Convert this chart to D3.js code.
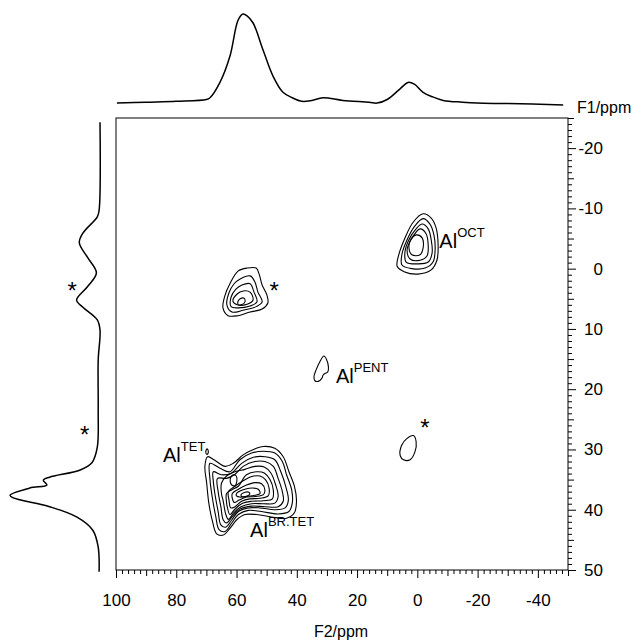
<!DOCTYPE html>
<html><head><meta charset="utf-8">
<script src="https://cdn.jsdelivr.net/npm/d3@7"></script>
<style>body{margin:0;background:#fff}svg{display:block;font-family:Arial,"Liberation Sans",sans-serif}</style>
</head><body><svg id="c" width="643" height="640"></svg>
<script>
// ---- axes ----
const F2_DOMAIN = [100, -50];
const F1_DOMAIN = [-25, 50];
const F2_TICK_LABELS = [100, 80, 60, 40, 20, 0, -20, -40];
const F1_TICK_LABELS = [-20, -10, 0, 10, 20, 30, 40, 50];

// ---- F2 (top) projection: [ppm, intensity] ----
const topProjection = [
  [99.7,1],[90,2],[80,3],[70,5],[68.8,7],[65.5,24],[62.2,53],[59.5,93],[57.9,100],[56.5,98],
  [54.5,90],[51.2,60],[47.9,31],[44.6,13],[41.5,7],[38.3,3],[35,4],[31.3,7],[24.7,4],[16,2],
  [13.4,1],[10,5],[6,16],[3.1,24],[1,22],[-1.9,13],[-5,8],[-8.6,4],[-15,2],[-19.8,1],[-30,0.5],[-48.4,-1]
];
// ---- F1 (left) projection: [ppm, intensity] ----
const leftProjection = [
  [-24.3,0],[-9.7,1],[-8.6,3],[-5.9,19],[-4.3,23],[-1.9,14],[0.7,4],[3.0,14],[5.2,26],[6.4,19],
  [8.5,3],[10.2,0],[15.2,2],[23.5,2],[29.6,3],[32.2,9],[33.4,22],[34.6,56],[35.1,63],[35.9,59],
  [36.4,78],[37.6,100],[38.0,97],[39.5,56],[41.2,26],[43.4,8],[46.2,2],[50.3,1]
];

// ---- contour lines: [F2 ppm, F1 ppm] ----
const contoursTET = [
  [[69.6,31.2],[67.2,31.8],[63.8,32.8],[61.1,32.3],[57.8,30.9],[54.4,30.0],[51.1,29.5],[47.3,29.8],[44.5,31.2],[42.6,33.7],[40.8,36.1],[40.1,38.6],[40.8,40.5],[43.4,41.4],[48.4,41.2],[53.3,40.8],[57.2,40.8],[60.0,41.7],[62.2,43.1],[64.4,44.2],[66.6,44.0],[68.0,41.9],[69.2,38.9],[69.9,35.6],[70.5,32.8]],
  [[68.8,32.3],[65.5,33.1],[62.2,33.7],[58.9,31.7],[55.0,30.6],[51.1,30.3],[47.3,30.6],[44.8,32.0],[43.4,34.2],[41.7,36.7],[41.5,38.9],[42.6,40.3],[46.2,40.7],[51.7,40.3],[56.1,40.1],[59.4,40.8],[61.6,42.2],[63.8,43.6],[65.8,43.3],[66.9,41.1],[68.0,38.1],[68.8,35.0]],
  [[67.7,33.7],[65.0,34.2],[61.6,33.9],[58.3,32.3],[54.4,31.3],[50.6,31.2],[47.3,31.7],[45.3,33.7],[43.7,36.1],[42.8,38.4],[43.9,39.7],[47.3,40.0],[52.2,39.7],[56.1,39.7],[59.4,40.3],[61.6,41.7],[63.6,42.9],[65.2,42.5],[66.1,40.3],[67.2,37.3],[67.7,35.3]],
  [[66.3,34.8],[63.3,34.8],[60.7,34.2],[57.8,32.8],[53.9,32.0],[50.6,32.0],[47.8,32.8],[46.2,34.8],[44.8,37.0],[44.5,38.6],[46.2,39.5],[50.6,39.5],[55.0,39.4],[58.9,39.9],[61.4,41.1],[63.3,42.2],[64.4,41.7],[65.2,39.5],[66.1,37.0]],
  [[65.0,35.6],[63.3,34.4],[60.5,33.7],[57.2,33.3],[53.9,32.8],[50.8,32.9],[48.6,33.9],[47.0,35.9],[46.2,37.8],[47.3,38.9],[51.1,39.0],[55.0,39.0],[58.5,39.5],[61.1,40.6],[62.7,41.6],[63.6,40.7],[64.4,38.6],[65.0,37.3]],
  [[63.3,37.3],[61.6,36.7],[59.4,36.1],[56.7,34.2],[53.3,33.7],[50.8,33.9],[48.9,35.0],[47.8,36.7],[48.1,38.2],[51.1,38.5],[55.0,38.6],[58.3,39.0],[60.7,40.0],[62.2,40.8],[63.0,39.7],[63.4,38.4]],
  [[62.7,37.0],[60.5,36.1],[57.8,35.2],[55.0,34.5],[52.2,34.4],[50.4,35.0],[49.2,36.4],[49.5,37.7],[52.2,38.1],[55.6,38.2],[58.3,38.6],[60.5,39.5],[61.9,39.7],[62.5,38.4]],
  [[61.4,37.3],[59.4,36.6],[56.7,35.9],[53.9,35.5],[51.7,35.7],[50.6,36.7],[51.1,37.5],[53.9,37.8],[56.7,37.9],[59.2,38.4],[60.7,38.8],[61.4,38.1]],
  [[60.0,37.3],[57.8,36.7],[55.0,36.4],[52.8,36.6],[52.2,37.3],[53.9,37.6],[56.7,37.8],[58.9,37.9],[60.0,37.7]],
  [[58.5,37.5],[57.2,37.1],[55.9,37.1],[55.6,37.4],[57.0,37.8],[58.3,37.8]],
  [[61.9,34.6],[61.1,34.2],[60.1,34.4],[59.9,35.3],[60.5,36.0],[61.6,35.9],[62.1,35.3]],
  [[69.8,29.9],[69.4,30.2],[69.5,30.7],[69.9,30.8],[70.2,30.4]]
];
const contoursOCT = [
  [[-1.9,-9.1],[-4.6,-8.4],[-6.2,-6.8],[-6.9,-3.9],[-6.5,-1.4],[-4.6,0.2],[-0.2,0.9],[4.4,0.5],[6.7,-0.4],[6.1,-2.4],[4.1,-5.1],[1.4,-7.7]],
  [[-1.9,-8.3],[-4.2,-7.4],[-5.5,-5.6],[-5.9,-3.1],[-5.2,-1.1],[-2.6,-0.1],[1.8,0.0],[5.1,-0.6],[5.1,-2.4],[3.4,-4.8],[0.8,-7.1]],
  [[-1.6,-7.4],[-3.6,-6.6],[-4.6,-4.8],[-4.9,-2.6],[-3.6,-1.1],[-0.2,-0.8],[3.7,-1.1],[4.1,-2.8],[2.8,-4.8],[0.4,-6.6]],
  [[-0.9,-6.6],[-2.9,-5.8],[-3.6,-3.9],[-3.2,-2.1],[-0.9,-1.4],[2.4,-1.6],[3.4,-3.1],[2.1,-4.8]],
  [[0.4,-5.6],[-1.6,-5.1],[-1.9,-3.4],[-0.9,-2.3],[1.8,-2.3],[2.8,-3.6],[2.1,-4.9]]
];
const contoursSideband = [
  [[59.5,0.4],[56.5,-0.1],[53.5,-0.1],[52.5,0.9],[51.5,2.7],[49.9,4.4],[49.6,5.7],[51.5,6.7],[55.5,7.2],[59.5,7.8],[62.8,7.8],[64.5,6.5],[63.8,4.4],[62.2,2.5]],
  [[58.8,1.7],[55.5,1.2],[53.9,2.2],[52.9,3.9],[51.5,5.5],[53.5,6.3],[57.8,6.9],[61.5,7.2],[63.2,6.0],[62.5,4.0],[60.8,2.5]],
  [[58.2,2.7],[55.5,2.5],[54.2,3.9],[53.2,5.5],[55.5,6.2],[59.5,6.5],[61.8,6.3],[61.8,4.7],[60.2,3.4]],
  [[57.8,3.7],[55.5,3.9],[54.5,5.2],[56.5,5.9],[59.8,6.0],[61.2,5.4],[59.8,4.2]],
  [[58.8,5.0],[57.5,4.9],[57.2,5.5],[58.5,6.0],[59.5,5.9],[59.5,5.4]]
];
const contoursPENT = [
  [[31.0,14.5],[30.1,15.1],[29.5,16.3],[29.7,17.1],[31.2,17.6],[31.7,18.2],[32.9,18.7],[34.0,18.6],[34.3,17.9],[33.6,16.8],[32.3,15.4]]
];
const contoursSideband2 = [
  [[1.3,27.7],[0.4,28.7],[0.8,30.4],[2.4,31.7],[4.6,31.7],[5.7,31.0],[5.2,29.3],[3.5,28.2]]
];

// ---- peak labels: [F2, F1, main, superscript] ----
const peakLabels = [
  [84.4, 32.1, "Al", "TET"],
  [-7.3, -3.5, "Al", "OCT"],
  [27.0, 19.0, "Al", "PENT"],
  [55.5, 44.5, "Al", "BR.TET"]
];
// spinning sidebands "*" in 2D: [F2, F1]
const sidebandStars = [[47.5, 5.0], [-2.5, 27.8]];
// "*" on left projection: [F1, intensity]
const projStars = [[5.0, 31], [29.0, 17]];

// ---- drawing ----
const svg = d3.select("#c");
const x = d3.scaleLinear().domain(F2_DOMAIN).range([116, 568]);
const y = d3.scaleLinear().domain(F1_DOMAIN).range([118, 570]);
const topI = d3.scaleLinear().domain([0, 100]).range([104, 14]);
const leftI = d3.scaleLinear().domain([0, 100]).range([100, 10]);

svg.append("rect").attr("x", 116).attr("y", 118).attr("width", 452).attr("height", 452)
  .attr("fill", "none").attr("stroke", "#000").attr("stroke-width", 1);

// bottom axis
const bx = svg.append("g").attr("transform", "translate(0,570)")
  .call(d3.axisBottom(x).tickValues(d3.range(-50, 101, 2)).tickSize(4)
    .tickFormat(d => F2_TICK_LABELS.includes(d) ? d : ""));
bx.select(".domain").remove();
bx.selectAll(".tick line").attr("y2", d => d % 20 === 0 ? 8 : d % 10 === 0 ? 6 : 4);
bx.selectAll(".tick text").attr("y", 24).attr("font-size", 17).attr("font-family", "Arial, Liberation Sans, sans-serif");

// right axis
const ry = svg.append("g").attr("transform", "translate(568,0)")
  .call(d3.axisRight(y).tickValues(d3.range(-25, 51, 1)).tickSize(4)
    .tickFormat(d => F1_TICK_LABELS.includes(d) ? d : ""));
ry.select(".domain").remove();
ry.selectAll(".tick line").attr("x2", d => d % 10 === 0 ? 8 : d % 5 === 0 ? 6 : 4);
ry.selectAll(".tick text").attr("x", 35).attr("text-anchor", "end").attr("font-size", 17)
  .attr("font-family", "Arial, Liberation Sans, sans-serif");

svg.append("text").attr("x", 341).attr("y", 637).attr("text-anchor", "middle")
  .attr("font-size", 16).text("F2/ppm");
svg.append("text").attr("x", 577).attr("y", 113).attr("font-size", 16).text("F1/ppm");

// projections
svg.append("path").datum(topProjection)
  .attr("d", d3.line().x(d => x(d[0])).y(d => topI(d[1])).curve(d3.curveCatmullRom))
  .attr("fill", "none").attr("stroke", "#000").attr("stroke-width", 1.5);
svg.append("path").datum(leftProjection)
  .attr("d", d3.line().x(d => leftI(d[1])).y(d => y(d[0])).curve(d3.curveCatmullRom))
  .attr("fill", "none").attr("stroke", "#000").attr("stroke-width", 1.5);

// contours
const cl = d3.line().x(d => x(d[0])).y(d => y(d[1])).curve(d3.curveCatmullRomClosed.alpha(0.5));
[contoursTET, contoursOCT, contoursSideband, contoursPENT, contoursSideband2].forEach(group => {
  svg.append("g").selectAll("path").data(group).join("path")
    .attr("d", cl).attr("fill", "none").attr("stroke", "#000").attr("stroke-width", 1.1);
});

// labels
peakLabels.forEach(([f2, f1, main, sup]) => {
  const t = svg.append("text").attr("x", x(f2)).attr("y", y(f1)).attr("font-size", 20);
  t.append("tspan").text(main);
  t.append("tspan").attr("font-size", 13).attr("dy", -11).text(sup);
});
svg.selectAll(".sstar").data(sidebandStars).join("text").attr("class", "sstar")
  .attr("x", d => x(d[0])).attr("y", d => y(d[1])).attr("font-size", 24)
  .attr("text-anchor", "middle").text("*");
svg.selectAll(".pstar").data(projStars).join("text").attr("class", "pstar")
  .attr("x", d => leftI(d[1])).attr("y", d => y(d[0])).attr("font-size", 24)
  .attr("text-anchor", "middle").text("*");
</script></body></html>
